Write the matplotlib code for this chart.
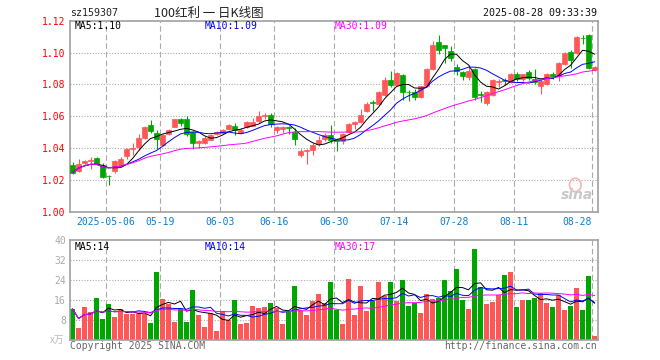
import matplotlib
matplotlib.use("Agg")
import matplotlib.pyplot as plt
from matplotlib.patches import Ellipse
import numpy as np
import pandas as pd

plt.rcParams["lines.scale_dashes"] = False
MONO = "DejaVu Sans Mono"
CJK = ["Noto Sans CJK SC", "DejaVu Sans"]

# daily OHLC
opens = [1.0295, 1.0253, 1.0306, 1.0316, 1.0335, 1.0295, 1.0227, 1.0253, 1.0295, 1.0348,
         1.0394, 1.0404, 1.0463, 1.0547, 1.0495, 1.0419, 1.0491, 1.0533, 1.0580, 1.0580,
         1.0503, 1.0434, 1.0432, 1.0453, 1.0491, 1.0495, 1.0520, 1.0537, 1.0495, 1.0533,
         1.0541, 1.0568, 1.0604, 1.0606, 1.0516, 1.0520, 1.0530, 1.0499, 1.0354, 1.0383,
         1.0385, 1.0425, 1.0457, 1.0480, 1.0451, 1.0445, 1.0501, 1.0553, 1.0565, 1.0632,
         1.0689, 1.0679, 1.0731, 1.0828, 1.0797, 1.0859, 1.0754, 1.0750, 1.0720, 1.0788,
         1.0897, 1.1066, 1.1045, 1.1008, 1.0911, 1.0880, 1.0846, 1.0895, 1.0738, 1.0685,
         1.0732, 1.0815, 1.0827, 1.0815, 1.0864, 1.0835, 1.0880, 1.0835, 1.0788, 1.0802,
         1.0864, 1.0860, 1.0926, 1.1004, 1.0994, 1.1093, 1.1111, 1.0891]
highs = [1.0312, 1.0333, 1.0327, 1.0346, 1.0346, 1.0305, 1.0231, 1.0323, 1.0341, 1.0400,
         1.0432, 1.0488, 1.0541, 1.0579, 1.0512, 1.0490, 1.0522, 1.0584, 1.0588, 1.0600,
         1.0510, 1.0453, 1.0478, 1.0490, 1.0510, 1.0520, 1.0553, 1.0558, 1.0526, 1.0568,
         1.0589, 1.0632, 1.0617, 1.0621, 1.0537, 1.0537, 1.0541, 1.0526, 1.0394, 1.0394,
         1.0432, 1.0478, 1.0495, 1.0547, 1.0463, 1.0495, 1.0555, 1.0569, 1.0648, 1.0687,
         1.0700, 1.0760, 1.0849, 1.0884, 1.0876, 1.0863, 1.0766, 1.0772, 1.0792, 1.0901,
         1.1070, 1.1111, 1.1049, 1.1039, 1.0926, 1.0884, 1.0922, 1.0901, 1.0757, 1.0757,
         1.0833, 1.0833, 1.0843, 1.0870, 1.0880, 1.0868, 1.0891, 1.0897, 1.0829, 1.0870,
         1.0880, 1.0938, 1.1004, 1.1014, 1.1107, 1.1111, 1.1117, 1.0918]
lows = [1.0238, 1.0247, 1.0293, 1.0268, 1.0293, 1.0212, 1.0168, 1.0244, 1.0289, 1.0331,
        1.0358, 1.0390, 1.0457, 1.0495, 1.0394, 1.0415, 1.0484, 1.0531, 1.0540, 1.0478,
        1.0394, 1.0402, 1.0428, 1.0449, 1.0484, 1.0489, 1.0516, 1.0482, 1.0491, 1.0526,
        1.0537, 1.0558, 1.0580, 1.0530, 1.0495, 1.0495, 1.0488, 1.0421, 1.0343, 1.0299,
        1.0358, 1.0415, 1.0444, 1.0432, 1.0379, 1.0428, 1.0497, 1.0518, 1.0559, 1.0627,
        1.0632, 1.0673, 1.0725, 1.0783, 1.0793, 1.0704, 1.0694, 1.0704, 1.0716, 1.0782,
        1.0891, 1.0988, 1.0932, 1.0946, 1.0860, 1.0829, 1.0829, 1.0699, 1.0691, 1.0670,
        1.0730, 1.0782, 1.0794, 1.0808, 1.0823, 1.0820, 1.0829, 1.0802, 1.0742, 1.0798,
        1.0835, 1.0819, 1.0922, 1.0901, 1.0988, 1.1056, 1.0897, 1.0885]
closes = [1.0246, 1.0302, 1.0316, 1.0327, 1.0297, 1.0216, 1.0224, 1.0316, 1.0331, 1.0396,
          1.0402, 1.0463, 1.0533, 1.0505, 1.0457, 1.0480, 1.0512, 1.0580, 1.0559, 1.0486,
          1.0431, 1.0446, 1.0463, 1.0484, 1.0503, 1.0512, 1.0547, 1.0512, 1.0516, 1.0562,
          1.0562, 1.0600, 1.0610, 1.0550, 1.0533, 1.0530, 1.0526, 1.0457, 1.0379, 1.0387,
          1.0421, 1.0453, 1.0484, 1.0453, 1.0446, 1.0486, 1.0549, 1.0565, 1.0605, 1.0679,
          1.0685, 1.0750, 1.0828, 1.0797, 1.0870, 1.0750, 1.0750, 1.0720, 1.0788, 1.0895,
          1.1049, 1.1019, 1.1029, 1.0963, 1.0885, 1.0850, 1.0885, 1.0720, 1.0734, 1.0751,
          1.0829, 1.0819, 1.0823, 1.0864, 1.0835, 1.0864, 1.0839, 1.0815, 1.0819, 1.0864,
          1.0850, 1.0932, 1.1000, 1.0953, 1.1097, 1.1089, 1.0901, 1.0911]
# volume in 万
volumes = [12.4, 4.8, 13.2, 11.2, 16.8, 8.4, 14.4, 9.2, 12.4, 10.4,
           10.4, 10.4, 10.4, 6.8, 27.2, 16.4, 14.4, 7.2, 12.4, 7.2,
           20.0, 10.0, 5.2, 10.8, 3.6, 11.6, 8.0, 16.0, 6.4, 6.8,
           13.6, 12.8, 13.2, 14.8, 12.8, 6.4, 11.2, 21.6, 12.0, 10.0,
           15.6, 18.4, 14.8, 23.2, 12.0, 6.4, 24.4, 10.0, 21.6, 11.6,
           15.6, 23.2, 17.6, 23.2, 15.6, 24.0, 13.6, 14.8, 10.8, 18.4,
           16.4, 16.8, 24.0, 19.6, 28.4, 16.0, 12.4, 36.4, 21.2, 14.4,
           15.2, 18.0, 26.0, 27.2, 13.2, 16.0, 16.0, 16.8, 18.8, 14.8,
           13.2, 18.0, 12.0, 13.6, 20.8, 12.0, 25.6, 1.6]

tick_idx = [6, 15, 25, 34, 44, 54, 64, 74, 87]
tick_labels = ["2025-05-06", "05-19", "06-03", "06-16", "06-30",
               "07-14", "07-28", "08-11", "08-28"]
price_ticks = [1.00, 1.02, 1.04, 1.06, 1.08, 1.10, 1.12]
vol_ticks = [8, 16, 24, 32, 40]

RED = "#ff5757"
GREEN = "#00a600"
GRID = "#aaaaaa"
FRAME = "#a0a0a0"
W, H = 660, 360


def px_rect(left, top, right, bottom):
    return [left / W, 1 - bottom / H, (right - left) / W, (bottom - top) / H]


def ftext(x, y, s, **kw):
    fig.text(x / W, 1 - y / H, s, va="center", **kw)


df = pd.DataFrame({"open": opens, "high": highs, "low": lows,
                   "close": closes, "vol": volumes})
n = len(df)
xs = np.arange(n) + 0.42
colors = np.where(df["close"] >= df["open"], RED, GREEN)

fig = plt.figure(figsize=(W / 100, H / 100), dpi=100)
ax = fig.add_axes(px_rect(70, 20.7, 598, 211.7))
axv = fig.add_axes(px_rect(70, 240, 598, 340))

for a in (ax, axv):
    a.set_xlim(0, 88)
    for s in a.spines.values():
        s.set_color(FRAME)
        s.set_linewidth(1.2)
    a.tick_params(length=0)
    for t in tick_idx:
        a.axvline(t, color=GRID, lw=0.8, dashes=(4, 2.2), zorder=0)

# price panel
ax.set_ylim(1.00, 1.12)
ax.set_yticks(price_ticks)
ax.set_yticklabels([f"{v:.2f}" for v in price_ticks], color="#ff0000",
                   fontfamily=MONO, fontsize=7)
ax.tick_params(axis="y", pad=3)
for v in price_ticks[1:-1]:
    ax.axhline(v, color=GRID, lw=0.8, dashes=(0.8, 1.2), zorder=0)

ax.vlines(xs, df["low"], df["high"], colors=colors, lw=0.8, zorder=2)
ax.bar(xs, (df["close"] - df["open"]).abs(), bottom=df[["open", "close"]].min(axis=1),
       width=0.78, color=colors, edgecolor=colors, lw=0.5, zorder=3)

for win, c in ((5, "black"), (10, "#0000ff"), (30, "#ff00ff")):
    ax.plot(xs, df["close"].rolling(win, min_periods=1).mean(), color=c, lw=0.7, zorder=4)
    axv.plot(xs, df["vol"].rolling(win, min_periods=1).mean(), color=c, lw=0.7, zorder=4)

ax.set_xticks(tick_idx)
ax.set_xticklabels(tick_labels, color="#0a7fd0", fontfamily=MONO, fontsize=7)
ax.tick_params(axis="x", pad=4)
ax.get_xticklabels()[-1].set_ha("right")

# faint sina watermark
ax.add_patch(Ellipse((0.957, 0.14), 0.022, 0.07, transform=ax.transAxes,
                     fill=False, ec="#f3b5b5", lw=1.2, zorder=1))
ax.text(0.96, 0.085, "sina", transform=ax.transAxes, ha="center", va="center",
        fontsize=10, color="#c8c8c8", style="italic", weight="bold", zorder=1)

# volume panel
axv.set_ylim(0, 40)
axv.set_yticks(vol_ticks)
axv.set_yticklabels([str(v) for v in vol_ticks], color="#aaaaaa",
                    fontfamily=MONO, fontsize=7)
axv.tick_params(axis="y", pad=3)
axv.set_xticks([])
for v in vol_ticks[:-1]:
    axv.axhline(v, color=GRID, lw=0.8, dashes=(0.8, 1.2), zorder=0)
axv.bar(xs, df["vol"], width=0.82, color=colors, zorder=2)

# header, legends and footer
ftext(70, 13.3, "sz159307", fontfamily=MONO, fontsize=7.2, color="#222222")
ftext(209, 13.3, "100红利 一 日K线图", family=CJK, fontsize=9, color="#222222", ha="center")
ftext(597, 13.3, "2025-08-28 09:33:39", fontfamily=MONO, fontsize=7.2,
      color="#111111", ha="right")
ftext(75, 26.3, "MA5:1.10", fontfamily=MONO, fontsize=7, color="black")
ftext(205, 26.3, "MA10:1.09", fontfamily=MONO, fontsize=7, color="#0000ff")
ftext(335, 26.3, "MA30:1.09", fontfamily=MONO, fontsize=7, color="#ff00ff")
ftext(75, 247, "MA5:14", fontfamily=MONO, fontsize=7, color="black")
ftext(205, 247, "MA10:14", fontfamily=MONO, fontsize=7, color="#0000ff")
ftext(335, 247, "MA30:17", fontfamily=MONO, fontsize=7, color="#ff00ff")
ftext(64, 340, "x万", family=CJK, fontsize=7, color="#bbbbbb", ha="right",
      style="italic")
ftext(70, 346, "Copyright 2025 SINA.COM", fontfamily=MONO, fontsize=7, color="#666666")
ftext(597, 346, "http://finance.sina.com.cn", fontfamily=MONO, fontsize=7,
      color="#666666", ha="right")

fig.savefig("out.png", dpi=100)
